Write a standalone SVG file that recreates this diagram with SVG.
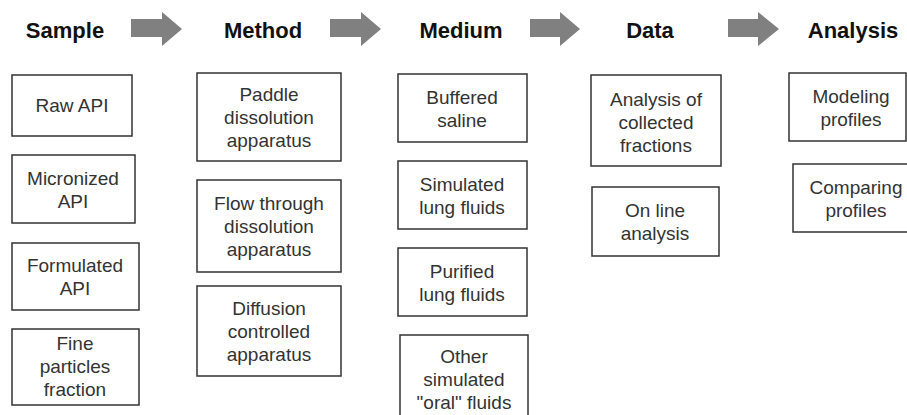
<svg xmlns="http://www.w3.org/2000/svg" width="907" height="415" viewBox="0 0 907 415">
<style>
.hd{font-family:"Liberation Sans",Arial,sans-serif;font-weight:bold;font-size:22px;fill:#111;text-anchor:middle}
.bx{fill:#fff;stroke:#333;stroke-width:1.5}
.t{font-family:"Liberation Sans",Arial,sans-serif;font-size:19px;fill:#333;text-anchor:middle}
.ar{fill:#808080}
</style>
<rect width="907" height="415" fill="#fff"/>
<g id="headers">
<text class="hd" x="65" y="38">Sample</text>
<text class="hd" x="263" y="38">Method</text>
<text class="hd" x="461" y="38">Medium</text>
<text class="hd" x="650" y="38">Data</text>
<text class="hd" x="853" y="38">Analysis</text>
</g>
<g id="connectors">
<polygon class="ar" points="131,19 162,19 162,12 182,29 162,46 162,37 131,37"/>
<polygon class="ar" points="330,19 361,19 361,12 381,29 361,46 361,37 330,37"/>
<polygon class="ar" points="530,19 560,19 560,12 580,29 560,46 560,37 530,37"/>
<polygon class="ar" points="728,19 758,19 758,12 779,29 758,46 758,37 728,37"/>
</g>
<g id="raw-api"><rect class="bx" x="12" y="75" width="120" height="61"/><text class="t" x="72" y="112">Raw API</text></g>
<g id="micronized-api"><rect class="bx" x="12" y="155" width="123" height="68"/><text class="t" x="73" y="185">Micronized</text><text class="t" x="73" y="208">API</text></g>
<g id="formulated-api"><rect class="bx" x="12" y="243" width="127" height="67"/><text class="t" x="75" y="272">Formulated</text><text class="t" x="75" y="295">API</text></g>
<g id="fine-particles"><rect class="bx" x="12" y="329" width="127" height="76"/><text class="t" x="75" y="350">Fine</text><text class="t" x="75" y="373">particles</text><text class="t" x="75" y="396">fraction</text></g>
<g id="paddle"><rect class="bx" x="197" y="73" width="144" height="88"/><text class="t" x="269" y="101">Paddle</text><text class="t" x="269" y="124">dissolution</text><text class="t" x="269" y="147">apparatus</text></g>
<g id="flow-through"><rect class="bx" x="197" y="180" width="144" height="92"/><text class="t" x="269" y="210">Flow through</text><text class="t" x="269" y="233">dissolution</text><text class="t" x="269" y="256">apparatus</text></g>
<g id="diffusion"><rect class="bx" x="197" y="286" width="144" height="90"/><text class="t" x="269" y="315">Diffusion</text><text class="t" x="269" y="338">controlled</text><text class="t" x="269" y="361">apparatus</text></g>
<g id="buffered-saline"><rect class="bx" x="398" y="74" width="129" height="68"/><text class="t" x="462" y="104">Buffered</text><text class="t" x="462" y="127">saline</text></g>
<g id="simulated-lung"><rect class="bx" x="398" y="161" width="129" height="68"/><text class="t" x="462" y="191">Simulated</text><text class="t" x="462" y="214">lung fluids</text></g>
<g id="purified-lung"><rect class="bx" x="398" y="248" width="129" height="68"/><text class="t" x="462" y="278">Purified</text><text class="t" x="462" y="301">lung fluids</text></g>
<g id="other-oral"><rect class="bx" x="400" y="335" width="128" height="90"/><text class="t" x="464" y="363">Other</text><text class="t" x="464" y="386">simulated</text><text class="t" x="464" y="409">"oral" fluids</text></g>
<g id="analysis-collected"><rect class="bx" x="591" y="75" width="130" height="91"/><text class="t" x="656" y="106">Analysis of</text><text class="t" x="656" y="129">collected</text><text class="t" x="656" y="152">fractions</text></g>
<g id="on-line"><rect class="bx" x="592" y="187" width="127" height="69"/><text class="t" x="655" y="217">On line</text><text class="t" x="655" y="240">analysis</text></g>
<g id="modeling"><rect class="bx" x="789" y="73" width="117" height="68"/><text class="t" x="851" y="103">Modeling</text><text class="t" x="851" y="126">profiles</text></g>
<g id="comparing"><rect class="bx" x="793" y="164" width="118" height="68"/><text class="t" x="856" y="194">Comparing</text><text class="t" x="856" y="217">profiles</text></g>
</svg>
